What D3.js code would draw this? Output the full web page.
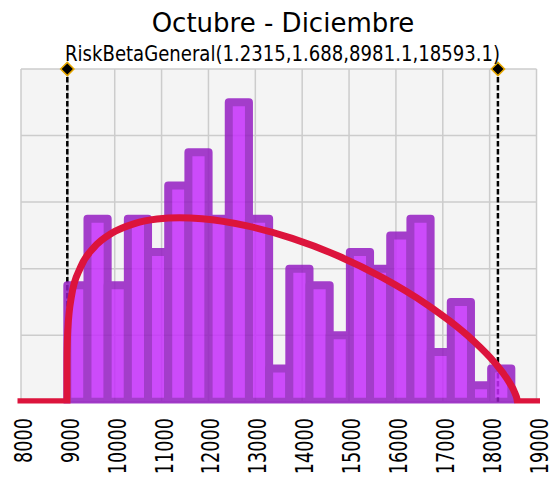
<html>
<head>
<script src="https://d3js.org/d3.v7.min.js"></script>
<style>
  body { margin: 0; background: #fff; }
  text { font-family: "DejaVu Sans", Verdana, sans-serif; fill: #000; }
</style>
</head>
<body>
<script>
// histogram: 22 equal bins between the sample min and max
var binStart = 8988, binEnd = 18463;
var counts = [7, 11, 7, 11, 9, 13, 15, 11, 18, 11, 2, 8, 7, 4, 9, 8, 10, 11, 3, 6, 1, 2];

// fitted RiskBetaGeneral curve (in bar-count units)
var curveX = [8000, 8981.1, 8982.1, 8985.9, 9000.3, 9077.2, 9269.5, 9557.8, 9942.3, 10422.9, 10903.5,
  11384.1, 11864.7, 12825.9, 13787.1, 14748.3, 15709.5, 16670.7, 17151.3, 17631.9, 18112.5,
  18400.9, 18545.0, 18583.5, 18593.1, 19000];
var curveY = [0, 0, 2.2, 3.2, 4.4, 6.35, 8.08, 9.28, 10.14, 10.71, 10.98,
  11.06, 11.0, 10.57, 9.82, 8.79, 7.47, 5.83, 4.85, 3.72, 2.34,
  1.25, 0.49, 0.16, 0, 0];

var delimiters = [8988, 18177];
var xTicks = [8000, 9000, 10000, 11000, 12000, 13000, 14000, 15000, 16000, 17000, 18000, 19000];
var yGrid = [0, 4, 8, 12, 16, 20];

var width = 556, height = 480;
var svg = d3.select("body").append("svg")
    .attr("width", width)
    .attr("height", height);

var x = d3.scaleLinear().domain([8000, 19000]).range([21, 536.5]);
var y = d3.scaleLinear().domain([0, 20]).range([401.8, 69]);

svg.append("clipPath").attr("id", "plotclip")
  .append("rect")
    .attr("x", 15).attr("y", 50)
    .attr("width", 525).attr("height", 403.4 - 50);

// plot background + grid
svg.append("rect")
    .attr("x", x(8000)).attr("y", y(20))
    .attr("width", x(19000) - x(8000)).attr("height", y(0) - y(20))
    .attr("fill", "#f4f4f4");

svg.append("g").selectAll("line").data(xTicks).enter().append("line")
    .attr("x1", d => x(d)).attr("x2", d => x(d))
    .attr("y1", y(20)).attr("y2", y(0))
    .attr("stroke", "#cccccc").attr("stroke-width", 1.5);

svg.append("g").selectAll("line").data(yGrid).enter().append("line")
    .attr("x1", x(8000)).attr("x2", x(19000))
    .attr("y1", d => y(d)).attr("y2", d => y(d))
    .attr("stroke", "#cccccc").attr("stroke-width", 1.5);

var plot = svg.append("g").attr("clip-path", "url(#plotclip)");

// delimiter lines (behind the bars)
plot.append("g").selectAll("line").data(delimiters).enter().append("line")
    .attr("x1", d => x(d)).attr("x2", d => x(d))
    .attr("y1", y(20)).attr("y2", y(0))
    .attr("stroke", "#000").attr("stroke-width", 2.5)
    .attr("stroke-dasharray", "5.5,2.5");

// bars
var binW = (binEnd - binStart) / counts.length;
var bars = plot.append("g").attr("opacity", 0.85);
bars.selectAll("rect").data(counts).enter().append("rect")
    .attr("x", (d, i) => x(binStart + i * binW))
    .attr("width", (d, i) => x(binStart + (i + 1) * binW) - x(binStart + i * binW))
    .attr("y", d => y(d))
    .attr("height", d => y(0) - y(d))
    .attr("fill", "rgb(197,45,251)")
    .attr("stroke", "rgb(148,29,194)")
    .attr("stroke-width", 8)
    .attr("stroke-linejoin", "round");

// fitted curve
var line = d3.line()
    .x(d => x(d[0]))
    .y(d => y(d[1]))
    .curve(d3.curveMonotoneX);

plot.append("path")
    .datum(curveX.map((v, i) => [v, curveY[i]]))
    .attr("d", line)
    .attr("fill", "none")
    .attr("stroke", "#dc143c")
    .attr("stroke-width", 7)
    .attr("stroke-linecap", "square");

// delimiter diamonds
svg.append("g").selectAll("path").data(delimiters).enter().append("path")
    .attr("d", d3.symbol().type(d3.symbolSquare).size(88))
    .attr("transform", d => "translate(" + x(d) + "," + y(20) + ") rotate(45)")
    .attr("fill", "#000")
    .attr("stroke", "#e8a800")
    .attr("stroke-width", 1.5);

// x axis labels
var xAxis = svg.append("g")
    .attr("transform", "translate(0," + 400 + ")")
    .call(d3.axisBottom(x).tickValues(xTicks).tickSize(0).tickFormat(d3.format("d")));
xAxis.select(".domain").remove();
xAxis.selectAll("text")
    .attr("font-family", "DejaVu Sans, sans-serif")
    .attr("font-size", 25)
    .attr("fill", "#000")
    .attr("text-anchor", "end")
    .attr("transform", "rotate(-90)")
    .attr("x", -18)
    .attr("y", 10.5)
    .attr("dy", 0)
    .attr("textLength", d => String(d).length * 11.25)
    .attr("lengthAdjust", "spacingAndGlyphs");

// titles
svg.append("text")
    .attr("x", 283).attr("y", 31.5)
    .attr("text-anchor", "middle")
    .attr("font-size", 26)
    .text("Octubre - Diciembre");

svg.append("text")
    .attr("x", 65).attr("y", 61)
    .attr("font-size", 20.5)
    .attr("textLength", 435)
    .attr("lengthAdjust", "spacingAndGlyphs")
    .text("RiskBetaGeneral(1.2315,1.688,8981.1,18593.1)");
</script>
</body>
</html>
